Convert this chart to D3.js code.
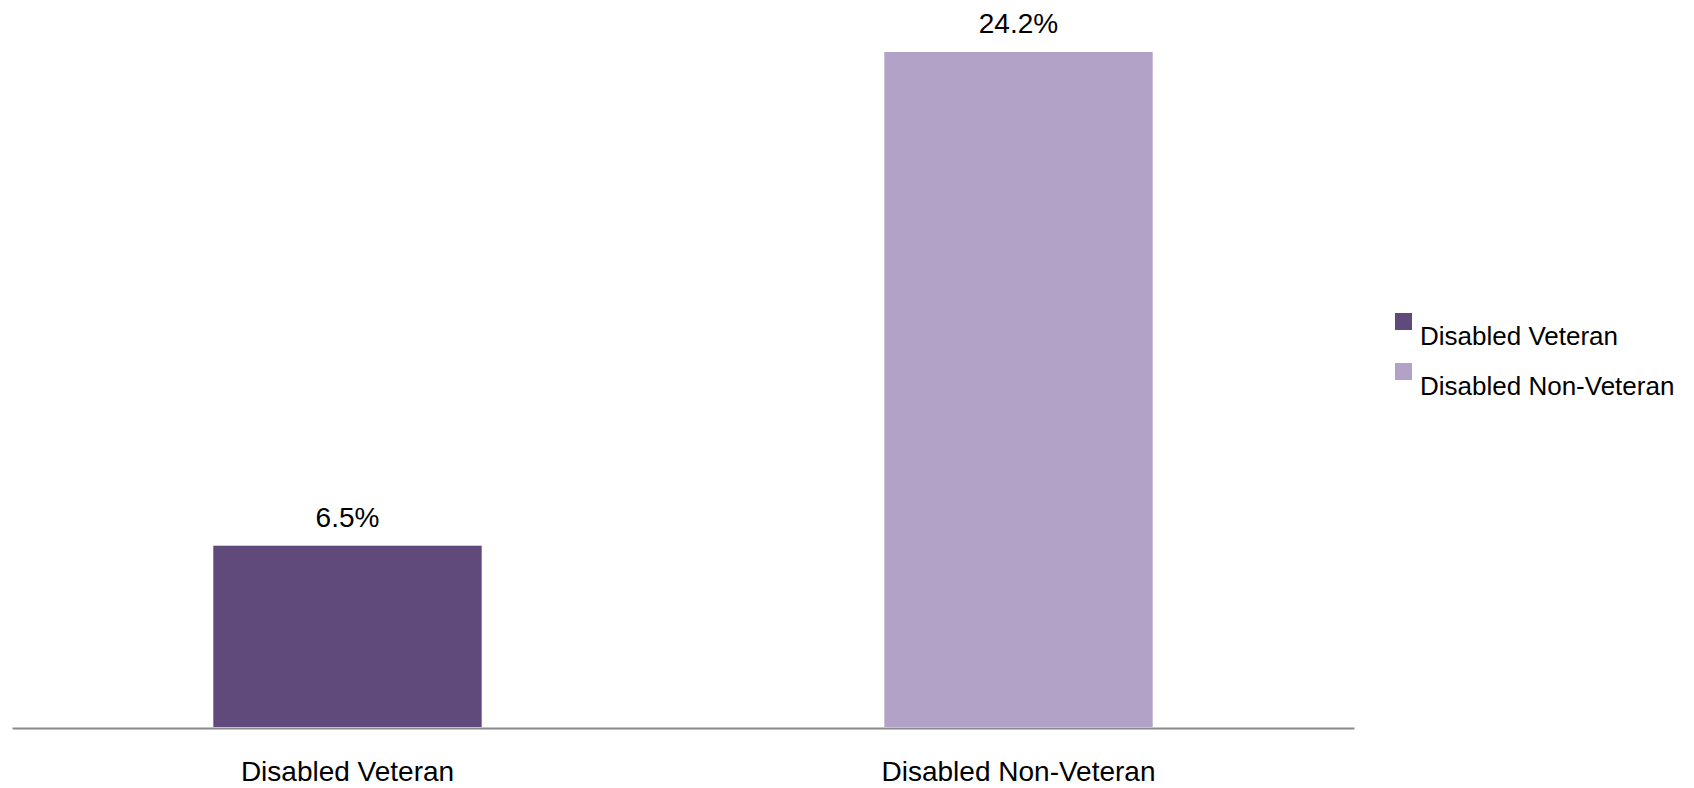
<!DOCTYPE html>
<html>
<head>
<meta charset="utf-8">
<script src="https://cdn.jsdelivr.net/npm/d3@7"></script>
<style>
  html, body { margin: 0; padding: 0; background: #fff; }
  svg { display: block; }
  text { font-family: "Liberation Sans", Arial, sans-serif; fill: #000; }
</style>
</head>
<body>
<svg id="chart" width="1694" height="788"></svg>
<script>
const categories = ["Disabled Veteran", "Disabled Non-Veteran"];
const values = [6.5, 24.2];
const valueLabels = ["6.5%", "24.2%"];
const seriesNames = ["Disabled Veteran", "Disabled Non-Veteran"];
const colors = ["#604A7B", "#B3A2C7"];

const svg = d3.select("#chart");

const x = d3.scaleBand()
  .domain(categories)
  .range([12, 1354])
  .paddingInner(0.6)
  .paddingOuter(0.3);

const y = d3.scaleLinear()
  .domain([0, 24.2])
  .range([727, 52]);

const color = d3.scaleOrdinal().domain(categories).range(colors);

// bars
svg.append("g").selectAll("rect")
  .data(categories)
  .join("rect")
  .attr("x", d => x(d))
  .attr("y", (d, i) => y(values[i]))
  .attr("width", x.bandwidth())
  .attr("height", (d, i) => y(0) - y(values[i]))
  .attr("fill", d => color(d));

// value labels
svg.append("g").selectAll("text")
  .data(categories)
  .join("text")
  .attr("x", d => x(d) + x.bandwidth() / 2)
  .attr("y", (d, i) => y(values[i]) - 19)
  .attr("text-anchor", "middle")
  .style("font-size", "28px")
  .text((d, i) => valueLabels[i]);

// x axis
const xAxis = d3.axisBottom(x).tickSize(0).tickPadding(0);
const gx = svg.append("g")
  .attr("transform", `translate(0,${y(0) + 1})`)
  .call(xAxis);
gx.select(".domain").attr("stroke", "#898989").attr("stroke-width", 2);
gx.selectAll(".tick text")
  .attr("dy", 0)
  .attr("y", 53)
  .style("font-size", "28px")
  .style("font-family", "'Liberation Sans', Arial, sans-serif")
  .attr("fill", "#000");

// legend
const legend = svg.append("g").attr("transform", "translate(1395,313)");
const item = legend.selectAll("g")
  .data(seriesNames)
  .join("g")
  .attr("transform", (d, i) => `translate(0,${i * 50})`);
item.append("rect")
  .attr("width", 17)
  .attr("height", 17)
  .attr("fill", d => color(d));
item.append("text")
  .attr("x", 25)
  .attr("y", 32)
  .style("font-size", "26px")
  .text(d => d);
</script>
</body>
</html>
